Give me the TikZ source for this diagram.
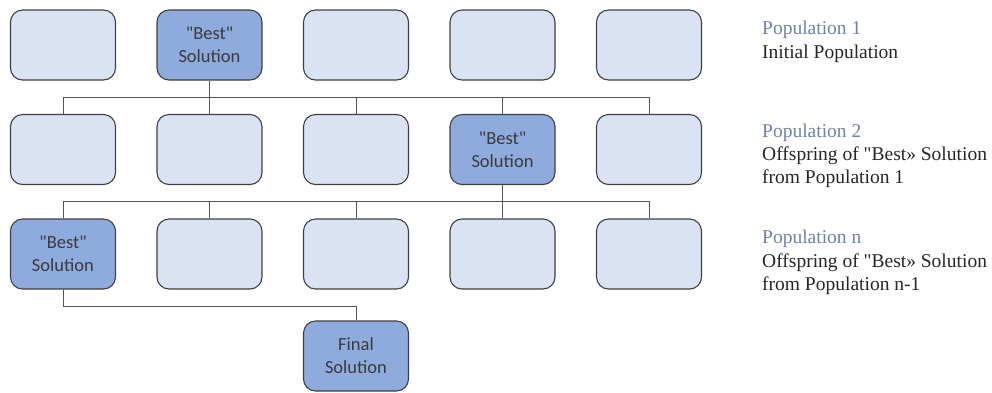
\documentclass[tikz,border=0pt]{standalone}
\usepackage{fontspec}
\newfontfamily\legendfont{Liberation Serif}
\newfontfamily\boxfont{Carlito}
\usetikzlibrary{calc}
\definecolor{plainfill}{HTML}{DAE3F3}
\definecolor{bestfill}{HTML}{8FAADC}
\definecolor{edge}{HTML}{404040}
\definecolor{wire}{HTML}{555555}
\definecolor{boxtext}{HTML}{3A3A3A}
\definecolor{poptitle}{HTML}{6F82AA}
\begin{document}
\begin{tikzpicture}[x=1pt,y=-1pt,
  cand/.style={draw=edge, line width=1.1pt, fill=plainfill, rounded corners=12pt,
    minimum width=105pt, minimum height=70pt, inner sep=0pt, align=center,
    font=\boxfont\fontsize{18.5}{23}\selectfont, text=boxtext},
  best/.style={cand, fill=bestfill},
  conn/.style={draw=wire, line width=0.9pt},
  title/.style={anchor=base west, inner sep=0pt, text=poptitle, font=\legendfont\fontsize{19.5}{23}\selectfont},
  desc/.style={anchor=base west, inner sep=0pt, text=black!85, font=\legendfont\fontsize{19.5}{23}\selectfont}]
\useasboundingbox (0,0) rectangle (992,392);

% population 1
\node[cand] (a1) at (63,45) {};
\node[best] (a2) at (209.5,45) {"Best"\\Solution};
\node[cand] (a3) at (356,45) {};
\node[cand] (a4) at (502.5,45) {};
\node[cand] (a5) at (649,45) {};

% population 2
\node[cand] (b1) at (63,149.5) {};
\node[cand] (b2) at (209.5,149.5) {};
\node[cand] (b3) at (356,149.5) {};
\node[best] (b4) at (502.5,149.5) {"Best"\\Solution};
\node[cand] (b5) at (649,149.5) {};

% population n
\node[best] (c1) at (63,254) {"Best"\\Solution};
\node[cand] (c2) at (209.5,254) {};
\node[cand] (c3) at (356,254) {};
\node[cand] (c4) at (502.5,254) {};
\node[cand] (c5) at (649,254) {};

% result
\node[best] (f) at (356,356) {Final\\Solution};

% junction levels
\coordinate (j1) at (0,97);
\coordinate (j2) at (0,201);
\coordinate (j3) at (0,306);

% offspring of population 1
\draw[conn] (a2.south) -- (a2.south |- j1);
\draw[conn] (b1.north) |- (b5.north |- j1) -- (b5.north);
\foreach \n in {b2,b3,b4} \draw[conn] (\n.north) -- (\n.north |- j1);

% offspring of population 2
\draw[conn] (b4.south) -- (b4.south |- j2);
\draw[conn] (c1.north) |- (c5.north |- j2) -- (c5.north);
\foreach \n in {c2,c3,c4} \draw[conn] (\n.north) -- (\n.north |- j2);

% final selection
\draw[conn] (c1.south) |- (f.north |- j3) -- (f.north);

% legend
\node[title] (t1) at (762,34) {Population 1};
\node[desc] (d1) at (762,58) {Initial Population};
\node[title] (t2) at (762,137) {Population 2};
\node[desc] (d2a) at (762,160) {Offspring of "Best» Solution};
\node[desc] (d2b) at (762,183) {from Population 1};
\node[title] (t3) at (762,243) {Population n};
\node[desc] (d3a) at (762,267) {Offspring of "Best» Solution};
\node[desc] (d3b) at (762,290) {from Population n-1};
\end{tikzpicture}
\end{document}
